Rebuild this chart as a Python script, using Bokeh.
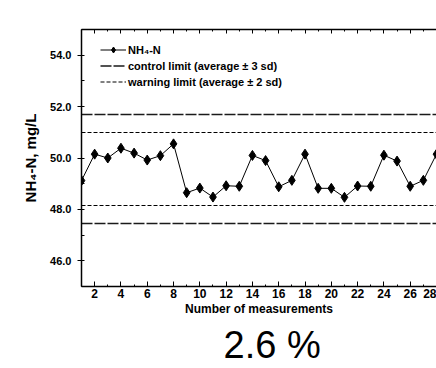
from bokeh.plotting import figure
from bokeh.models import Range1d, SingleIntervalTicker, LinearAxis, NumeralTickFormatter, Title, Legend
from bokeh.embed import file_html
from bokeh.resources import INLINE

measurements = list(range(1, 29))
nh4_n = [49.12, 50.15, 50.00, 50.38, 50.19, 49.92, 50.09, 50.55, 48.65, 48.83,
         48.48, 48.92, 48.90, 50.10, 49.90, 48.88, 49.13, 50.15, 48.82, 48.82,
         48.47, 48.91, 48.90, 50.11, 49.88, 48.90, 49.13, 50.15]
control_limits = [51.70, 47.45]
warning_limits = [51.00, 48.15]
x_ticks_interval = 2
rsd_text = "2.6 %"

FONT = "Liberation Sans"

p = figure(width=436, height=368, output_backend="svg", toolbar_location=None,
           x_range=Range1d(1, 28), y_range=Range1d(45, 55),
           min_border_left=81, min_border_right=0, min_border_top=29, min_border_bottom=81)
p.outline_line_color = None
p.grid.visible = False
p.background_fill_color = "white"

cl = p.hspan(y=control_limits, line_color="#1a1a1a", line_width=1.6, line_dash="11 2")
wl = p.hspan(y=warning_limits, line_color="black", line_width=1, line_dash="4 2")
ln = p.line(measurements, nh4_n, line_color="black", line_width=1)
mk = p.scatter(measurements, nh4_n, marker="diamond", size=10, fill_color="black", line_color="black")

legend = Legend(items=[("NH₄-N", [ln, mk]),
                       ("control limit (average ± 3 sd)", [cl]),
                       ("warning limit (average ± 2 sd)", [wl])],
                location=(19, 197), border_line_color=None, background_fill_alpha=0,
                label_text_font=FONT, label_text_font_style="bold", label_text_font_size="11px",
                label_text_color="black",
                glyph_width=26, label_standoff=2, label_height=15, glyph_height=15,
                spacing=1, padding=0, margin=0)
p.add_layout(legend)

xa = p.xaxis[0]
xa.ticker = SingleIntervalTicker(interval=x_ticks_interval, num_minor_ticks=2)
xa.axis_label = "Number of measurements"
xa.axis_label_text_font = FONT
xa.axis_label_text_font_style = "bold"
xa.axis_label_text_font_size = "12px"
xa.axis_label_text_color = "black"
xa.axis_label_standoff = 1
xa.major_label_text_font = FONT
xa.major_label_text_font_style = "bold"
xa.major_label_text_font_size = "12px"
xa.major_label_text_color = "black"
xa.major_label_standoff = 2
xa.major_tick_in = 5
xa.major_tick_out = 0
xa.minor_tick_in = 2
xa.minor_tick_out = 0
xa.axis_line_width = 1.5

ya = p.yaxis[0]
ya.ticker = SingleIntervalTicker(interval=2, num_minor_ticks=2)
ya.formatter = NumeralTickFormatter(format="0.0")
ya.axis_label = "NH₄-N, mg/L"
ya.axis_label_text_font = FONT
ya.axis_label_text_font_style = "bold"
ya.axis_label_text_font_size = "15px"
ya.axis_label_text_color = "black"
ya.axis_label_standoff = 8
ya.major_label_text_font = FONT
ya.major_label_text_font_style = "bold"
ya.major_label_text_font_size = "11px"
ya.major_label_text_color = "black"
ya.major_label_standoff = 6
ya.major_tick_in = 0
ya.major_tick_out = 4
ya.minor_tick_in = 3
ya.minor_tick_out = 0
ya.axis_line_width = 1.5

top = LinearAxis(ticker=SingleIntervalTicker(interval=x_ticks_interval, num_minor_ticks=2),
                 major_label_text_font_size="1px", major_label_text_color=None,
                 major_tick_in=4, major_tick_out=0,
                 minor_tick_in=2, minor_tick_out=0, axis_line_width=1.5)
p.add_layout(top, "above")

p.add_layout(Title(text=rsd_text, align="left", offset=142, standoff=6, text_font=FONT,
                   text_font_style="normal", text_font_size="38px", text_color="black"), "below")

open("out.html", "w").write(file_html(p, INLINE))
